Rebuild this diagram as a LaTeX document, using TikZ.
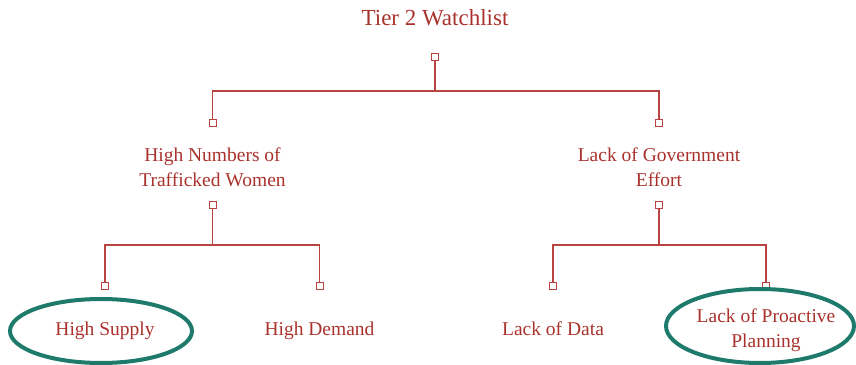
\documentclass[tikz,border=0pt]{standalone}
\usepackage{fontspec}
\setmainfont{Liberation Serif}
\definecolor{treered}{HTML}{A9322C}
\definecolor{linkred}{HTML}{B8433F}
\definecolor{ringteal}{HTML}{1E7B6B}
\begin{document}
\begin{tikzpicture}[x=1pt,y=1pt,
  label/.style={text=treered,font=\fontsize{19.5}{25}\selectfont,align=center,inner sep=0pt},
  port/.style={draw=linkred,fill=white,line width=0.9pt,minimum size=7pt,inner sep=0pt,rectangle},
  link/.style={draw=linkred,line width=1.2pt},
  ring/.style={draw=ringteal,line width=4pt}]
\useasboundingbox (0,0) rectangle (856,364);
% root
\node[label,font=\fontsize{23}{25}\selectfont,anchor=base] (root) at (435,338) {Tier 2 Watchlist};
\node[port] (p0) at (435,307) {};
\coordinate (j0) at (435,273);
% second level
\node[port] (pa) at (212.5,241) {};
\node[port] (pb) at (659,241) {};
\node[label] (a) at (212.5,197) {High Numbers of\\Trafficked Women};
\node[label] (b) at (659,197) {Lack of Government\\Effort};
\node[port] (pa2) at (212.5,159) {};
\node[port] (pb2) at (659,159) {};
\coordinate (ja) at (212.5,119);
\coordinate (jb) at (659,119);
% leaves
\node[port] (p1) at (105,78) {};
\node[port] (p2) at (319.5,78) {};
\node[port] (p3) at (553,78) {};
\node[port] (p4) at (766,78) {};
\node[label,anchor=base] (l1) at (105,29) {High Supply};
\node[label,anchor=base] (l2) at (319.5,29) {High Demand};
\node[label,anchor=base] (l3) at (553,29) {Lack of Data};
\node[label] (l4) at (766,34) {Lack of Proactive\\Planning};
% connectors
\draw[link] (p0.south) -- (j0);
\draw[link] (pa.north) |- (j0) -| (pb.north);
\draw[link] (pa2.south) -- (ja);
\draw[link] (p1.north) |- (ja) -| (p2.north);
\draw[link] (pb2.south) -- (jb);
\draw[link] (p3.north) |- (jb) -| (p4.north);
% highlight rings
\draw[ring] (101,33) ellipse [x radius=91, y radius=32];
\draw[ring] (760,38) ellipse [x radius=94, y radius=37];
\end{tikzpicture}
\end{document}
